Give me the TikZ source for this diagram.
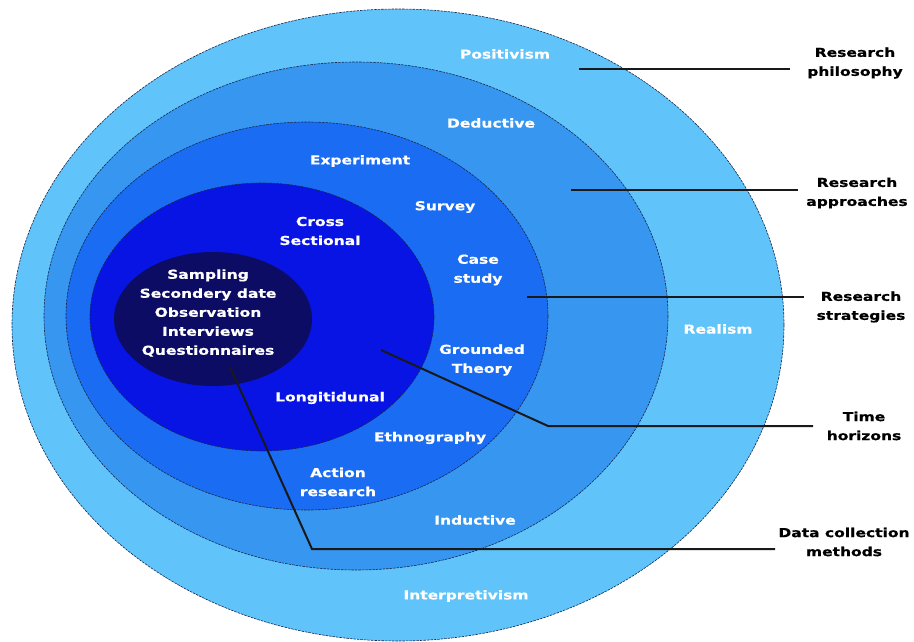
\documentclass[tikz,border=0pt]{standalone}
\usepackage{fontspec}
\newfontfamily\labfont{DejaVu Sans}[FakeStretch=1.26, FakeBold=0.6]
\definecolor{c1}{RGB}{96,196,250}
\definecolor{c2}{RGB}{55,150,240}
\definecolor{c3}{RGB}{26,108,242}
\definecolor{c4}{RGB}{8,20,228}
\definecolor{c5}{RGB}{12,12,100}
\definecolor{edgec}{RGB}{20,40,80}
\begin{document}
\begin{tikzpicture}[x=1pt,y=-1pt,
  ring/.style={draw=edgec, line width=0.6pt, dash pattern=on 2.5pt off 1pt},
  inlab/.style={font=\labfont\bfseries\fontsize{12.3}{19}\selectfont, text=white, align=center, inner sep=0pt},
  outlab/.style={font=\labfont\bfseries\fontsize{12.3}{19}\selectfont, text=black, align=center, inner sep=0pt},
  conn/.style={draw=black!90, line width=2pt}]
\useasboundingbox (0,0) rectangle (914,642);
\fill[white] (0,0) rectangle (914,642);
% nested ellipses
\path[ring, fill=c1] (398,325) ellipse [x radius=386, y radius=316];
\path[ring, fill=c2] (356,316) ellipse [x radius=312, y radius=254];
\path[ring, fill=c3] (307,316) ellipse [x radius=241, y radius=194];
\path[ring, fill=c4] (262,317) ellipse [x radius=172, y radius=134];
\path[fill=c5] (213,319) ellipse [x radius=99, y radius=67];
% inner labels
\node[inlab] (posit) at (505,54) {Positivism};
\node[inlab] (deduc) at (491,123) {Deductive};
\node[inlab] (exper) at (360,161) {Experiment};
\node[inlab] (surv) at (445,207) {Survey};
\node[inlab] (cross) at (320,231) {Cross\\Sectional};
\node[inlab] (case) at (478,270) {Case\\study};
\node[inlab] (data) at (208,313) {Sampling\\Secondery date\\Observation\\Interviews\\Questionnaires};
\node[inlab] (real) at (718,329) {Realism};
\node[inlab] (ground) at (482,360) {Grounded\\Theory};
\node[inlab] (longi) at (330,398) {Longitidunal};
\node[inlab] (ethno) at (430,438) {Ethnography};
\node[inlab] (action) at (338,482) {Action\\research};
\node[inlab] (induc) at (475,520) {Inductive};
\node[inlab] (interp) at (466,596) {Interpretivism};
% right labels
\node[outlab] (rphil) at (855,63) {Research\\philosophy};
\node[outlab] (rappr) at (857,193) {Research\\approaches};
\node[outlab] (rstrat) at (861,307) {Research\\strategies};
\node[outlab] (rtime) at (864,426) {Time\\horizons};
\node[outlab] (rdata) at (844,542) {Data collection\\methods};
% connector points
\coordinate (a1) at (579,69);  \coordinate (a2) at (790,69);
\coordinate (b1) at (571,190); \coordinate (b2) at (798,190);
\coordinate (s1) at (527,297); \coordinate (s2) at (804,297);
\coordinate (t1) at (381,350); \coordinate (t2) at (548,426); \coordinate (t3) at (813,426);
\coordinate (d1) at (230,367); \coordinate (d2) at (312,549); \coordinate (d3) at (775,549);
\draw[conn] (a1) -- (a2);
\draw[conn] (b1) -- (b2);
\draw[conn] (s1) -- (s2);
\draw[conn] (t1) -- (t2) -- (t3);
\draw[conn] (d1) -- (d2) -- (d3);
\end{tikzpicture}
\end{document}
